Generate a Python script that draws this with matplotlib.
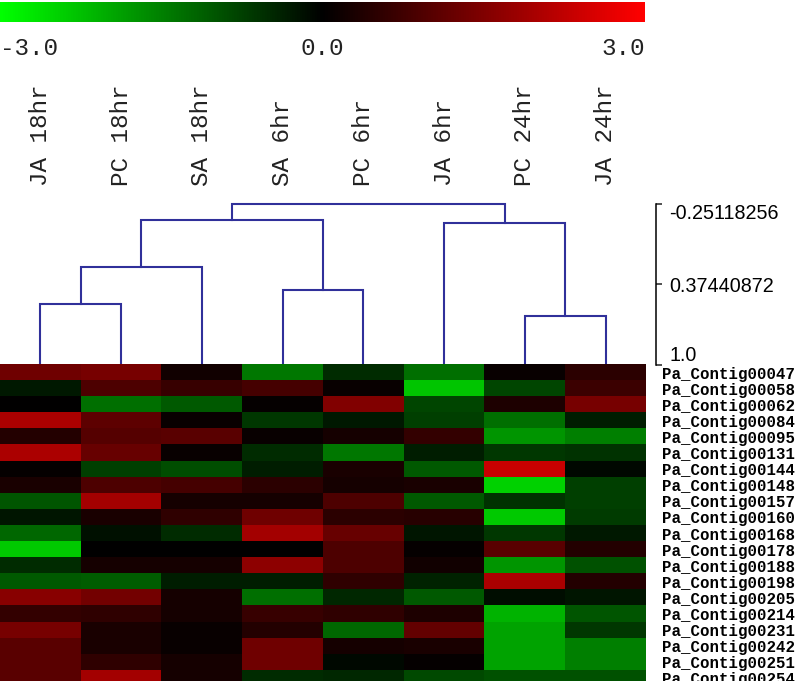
import numpy as np
import matplotlib
matplotlib.use("Agg")
import matplotlib.pyplot as plt
from matplotlib.colors import LinearSegmentedColormap, Normalize
from matplotlib.cm import ScalarMappable
from matplotlib.transforms import blended_transform_factory

# ==============================================
# Data
# ==============================================

conditions = ["JA 18hr", "PC 18hr", "SA 18hr", "SA 6hr",
              "PC 6hr", "JA 6hr", "PC 24hr", "JA 24hr"]

genes = ["Pa_Contig00047", "Pa_Contig00058", "Pa_Contig00062", "Pa_Contig00084",
         "Pa_Contig00095", "Pa_Contig00131", "Pa_Contig00144", "Pa_Contig00148",
         "Pa_Contig00157", "Pa_Contig00160", "Pa_Contig00168", "Pa_Contig00178",
         "Pa_Contig00188", "Pa_Contig00198", "Pa_Contig00205", "Pa_Contig00214",
         "Pa_Contig00231", "Pa_Contig00242", "Pa_Contig00251", "Pa_Contig00254"]

# log ratios, one row per gene, columns in the order of `conditions`
expr = [
    [1.3, 1.4, 0.2, -1.4, -0.5, -1.3, 0.1, 0.5],
    [-0.3, 0.9, 0.65, 0.8, 0.1, -2.3, -0.8, 0.7],
    [0.0, -1.3, -1.05, 0.05, 1.5, -0.8, 0.35, 1.4],
    [2.0, 1.1, 0.1, -0.65, -0.3, -0.75, -1.3, -0.35],
    [0.4, 1.0, 1.05, 0.1, 0.25, 0.6, -1.75, -1.5],
    [2.0, 1.2, 0.1, -0.5, -1.4, -0.35, -0.65, -0.6],
    [0.05, -0.75, -0.9, -0.35, 0.3, -1.05, 2.35, -0.1],
    [0.3, 0.9, 0.8, 0.5, 0.25, 0.3, -2.45, -0.75],
    [-1.0, 1.9, 0.25, 0.25, 0.9, -1.05, -0.6, -0.75],
    [-0.25, 0.3, 0.55, 1.3, 0.5, 0.45, -2.35, -0.7],
    [-1.2, -0.2, -0.5, 1.9, 1.2, -0.25, -0.65, -0.3],
    [-2.35, 0.0, 0.0, 0.0, 0.9, 0.05, 1.05, 0.4],
    [-0.5, 0.25, 0.25, 1.65, 0.9, 0.2, -1.75, -0.95],
    [-1.05, -1.1, -0.35, -0.35, 0.55, -0.4, 2.0, 0.4],
    [1.6, 1.35, 0.25, -1.3, -0.45, -1.05, -0.15, -0.25],
    [0.6, 0.55, 0.25, 0.65, 0.55, 0.35, -2.1, -1.0],
    [1.4, 0.3, 0.1, 0.4, -1.2, 1.15, -1.9, -0.65],
    [1.05, 0.3, 0.1, 1.3, 0.25, 0.3, -1.9, -1.5],
    [1.05, 0.55, 0.25, 1.3, -0.1, 0.05, -1.9, -1.5],
    [1.05, 1.9, 0.25, -0.5, -0.45, -0.85, -0.95, -0.95],
]

# tree over the conditions: (left, right, height), leaves are 0..7,
# merged clusters get ids 8, 9, ... in this order
merges = [
    (0, 1, 0.525),
    (8, 2, 0.240),
    (3, 4, 0.422),
    (6, 7, 0.622),
    (9, 10, -0.130),
    (5, 11, -0.103),
    (12, 13, -0.25118256),
]

tree_ticks = [-0.25118256, 0.37440872, 1.0]
tree_tick_labels = ["-0.25118256", "0.37440872", "1.0"]

cbar_ticks = [-3.0, 0.0, 3.0]

# ==============================================
# Layout (pixel boxes turned into figure fractions)
# ==============================================

W, H = 800, 681
fig = plt.figure(figsize=(W / 100, H / 100), dpi=100)


def box(x0, y0, x1, y1):
    """pixel box measured from the top-left -> fig.add_axes rect"""
    return [x0 / W, 1 - y1 / H, (x1 - x0) / W, (y1 - y0) / H]


row_h = 16.1
ax_c = fig.add_axes(box(0, 1.5, 645, 21.5))
ax_d = fig.add_axes(box(0, 204, 646, 364.5))
ax_h = fig.add_axes(box(0, 364.5, 646, 364.5 + row_h * len(genes)))

cmap = LinearSegmentedColormap.from_list("gkr", ["#00ff00", "#000000", "#ff0000"])
norm = Normalize(vmin=-3, vmax=3)
mono = "Liberation Mono"

# ---- colour scale ----
cb = fig.colorbar(ScalarMappable(norm=norm, cmap=cmap), cax=ax_c,
                  orientation="horizontal")
cb.outline.set_visible(False)
ax_c.set_xticks([])
ty = blended_transform_factory(ax_c.transData, fig.transFigure)
for v, ha in zip(cbar_ticks, ["left", "center", "right"]):
    ax_c.text(v, 1 - 48.5 / H, f"{v:.1f}", transform=ty, ha=ha, va="center",
              family=mono, fontsize=17.5, color="#222222")

# ---- heatmap ----
ax_h.imshow(np.array(expr), cmap=cmap, norm=norm, aspect="auto",
            interpolation="nearest")
ax_h.set_xticks([])
ax_h.yaxis.tick_right()
ax_h.set_yticks(range(len(genes)))
ax_h.set_yticklabels(genes, family=mono, fontweight="bold", fontsize=11.3)
ax_h.tick_params(axis="y", length=0, pad=11.5)
for s in ax_h.spines.values():
    s.set_visible(False)

# ---- dendrogram ----
line_col = "#30309a"
pos = {i: (float(i), 1.0) for i in range(len(conditions))}
for k, (a, b, h) in enumerate(merges):
    xa, ya = pos[a]
    xb, yb = pos[b]
    ax_d.plot([xa, xa, xb, xb], [ya, h, h, yb], color=line_col, lw=1.5,
              clip_on=False, solid_joinstyle="miter")
    pos[len(conditions) + k] = ((xa + xb) / 2, h)

ax_d.set_xlim(-0.5, len(conditions) - 0.5)
ax_d.set_ylim(1.0, tree_ticks[0])
ax_d.set_xticks([])
for side in ["left", "top", "bottom"]:
    ax_d.spines[side].set_visible(False)
ax_d.spines["right"].set_position(("outward", 7.2))
ax_d.spines["right"].set_linewidth(1.1)
ax_d.yaxis.tick_right()
ax_d.set_yticks(tree_ticks)
ax_d.set_yticklabels(tree_tick_labels, family="Liberation Sans", fontsize=14.2)
ax_d.tick_params(axis="y", length=4.3, width=1.1, pad=5.5, color="#222222")
labels = ax_d.get_yticklabels()
labels[0].set_va("top")
labels[-1].set_va("bottom")

# ---- condition labels, standing on their columns ----
tx = blended_transform_factory(ax_d.transData, fig.transFigure)
for i, name in enumerate(conditions):
    ax_d.text(i, 1 - 186 / H, name, transform=tx, rotation=90, ha="center",
              va="bottom", family=mono, fontsize=17.5, color="#222222")

fig.savefig("out.png", dpi=100, facecolor="white")
